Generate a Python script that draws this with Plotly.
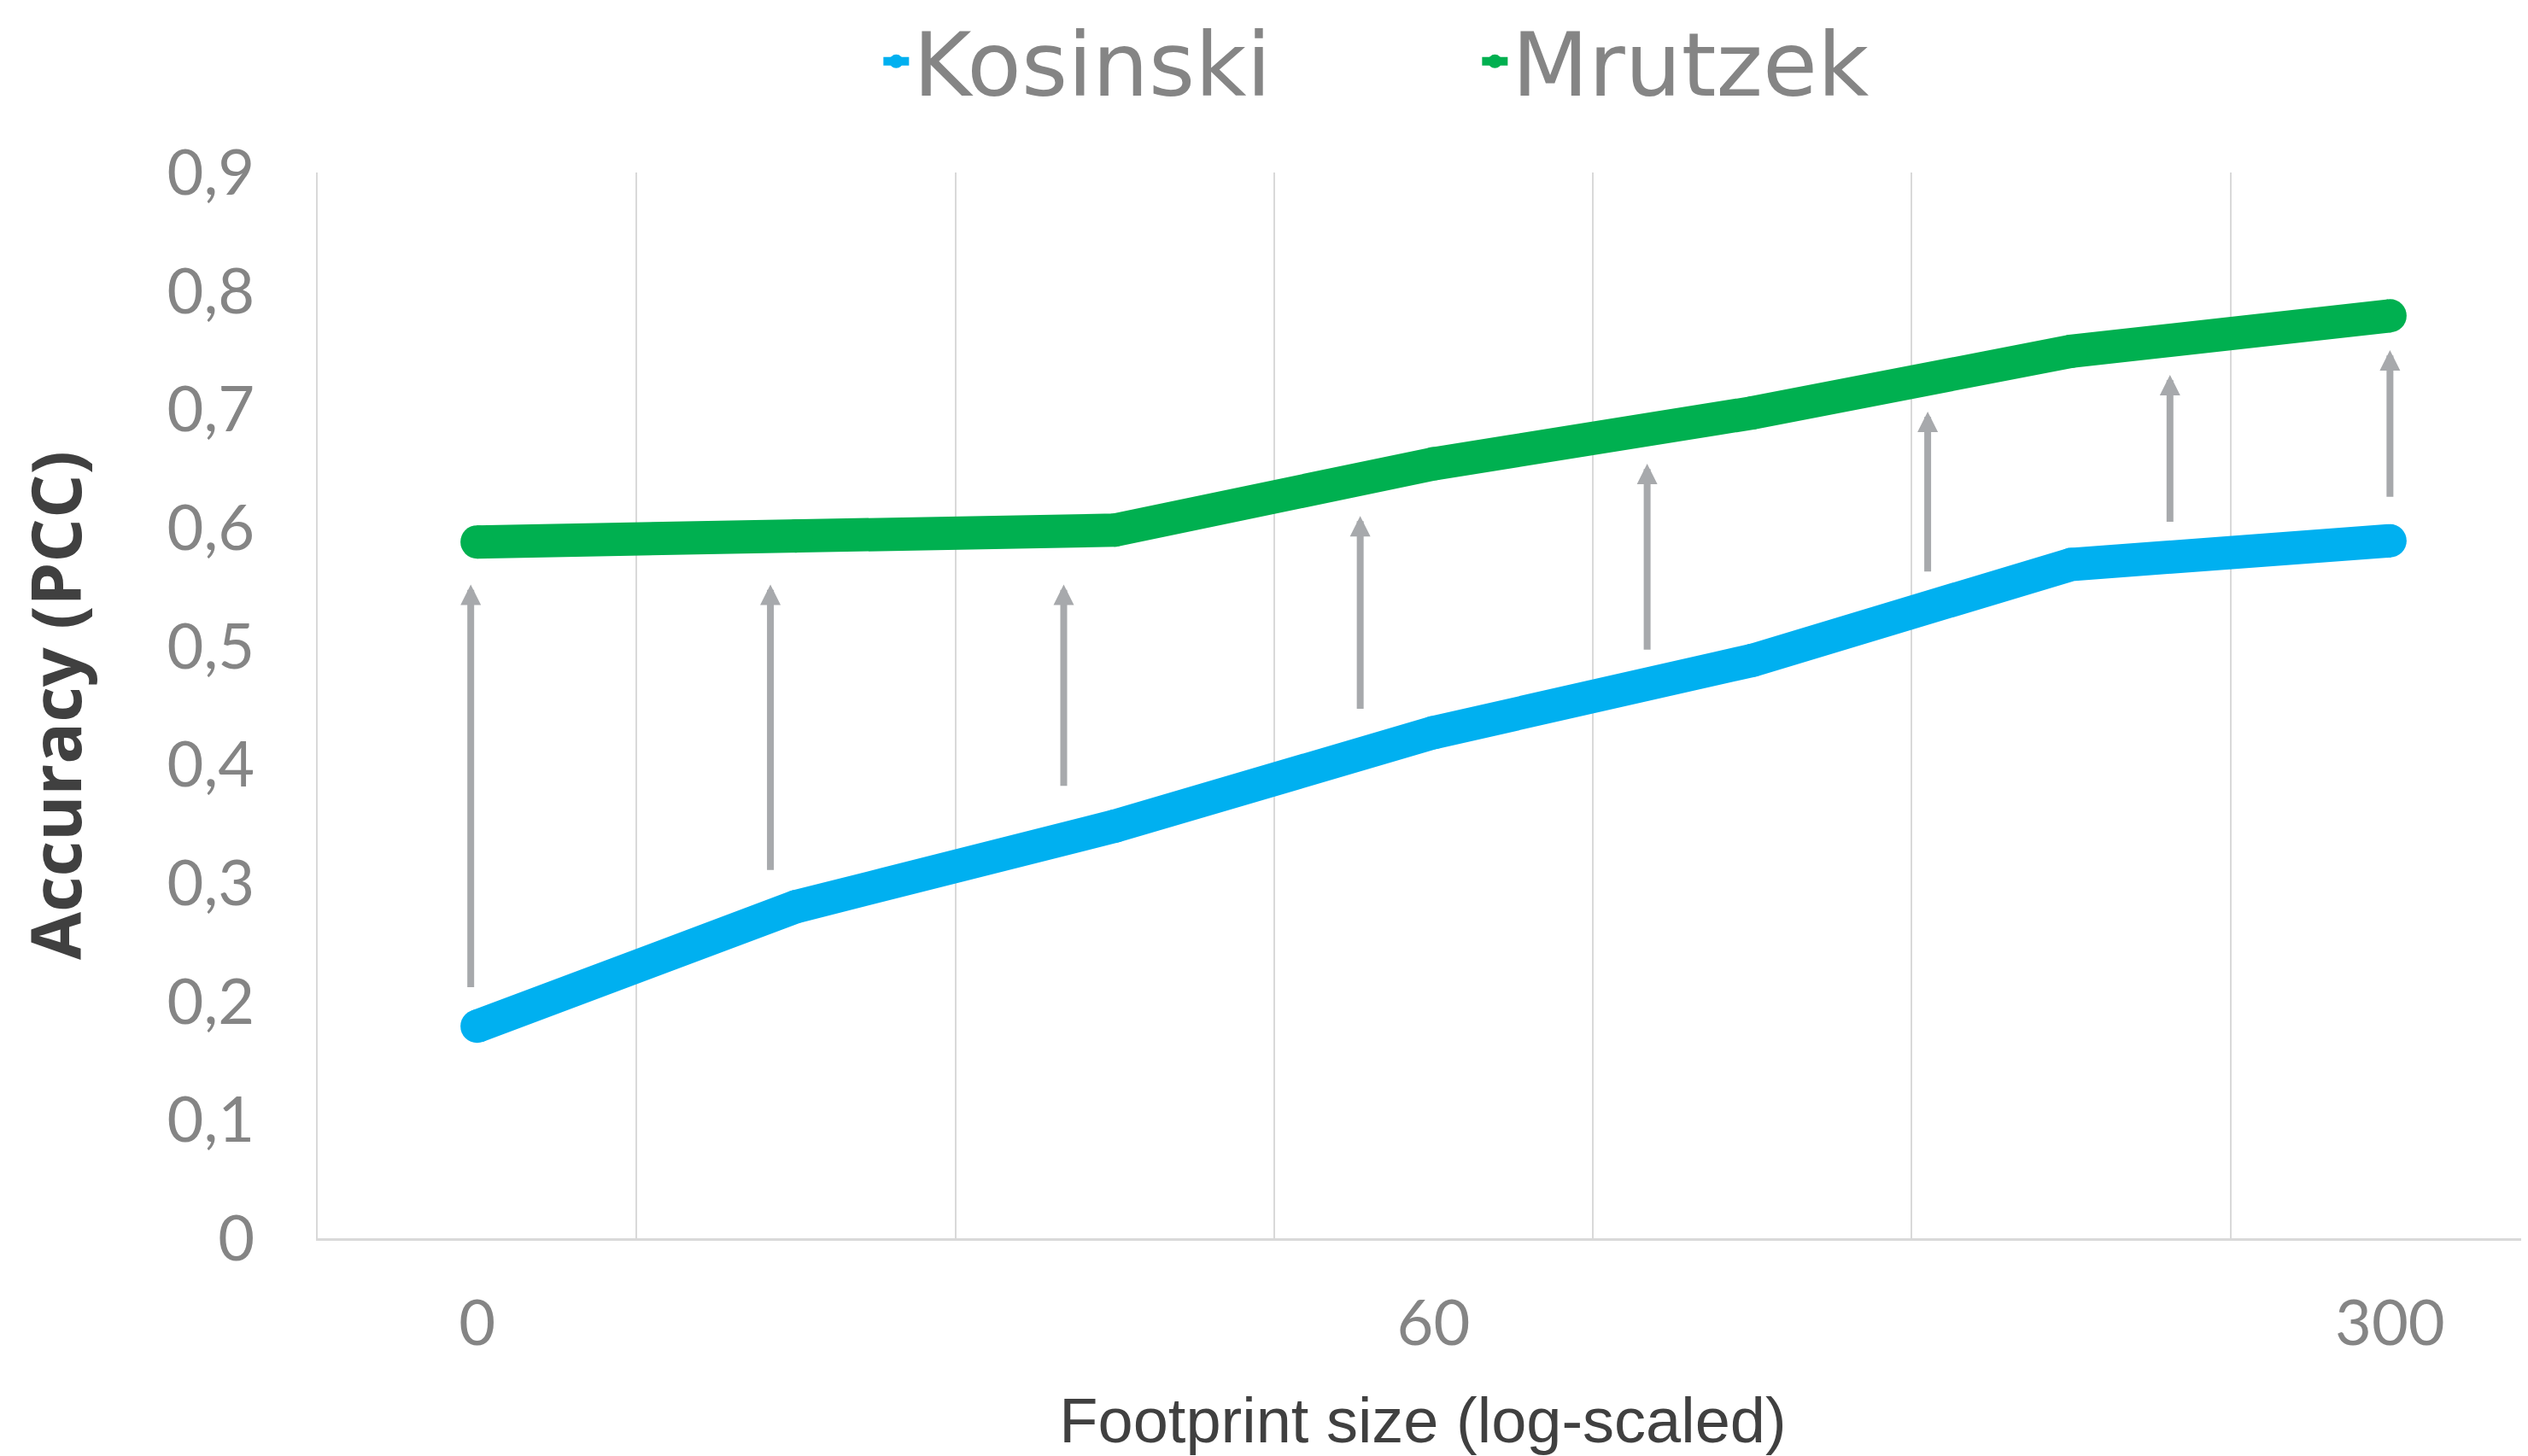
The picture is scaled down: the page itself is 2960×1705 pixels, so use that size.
import plotly.graph_objects as go

# ---- data ----
x_index = [0, 1, 2, 3, 4, 5, 6]
tick_positions = [0, 3, 6]
tick_labels = ["0", "60", "300"]
kosinski = [0.179, 0.280, 0.348, 0.427, 0.488, 0.569, 0.589]
mrutzek = [0.588, 0.593, 0.598, 0.654, 0.697, 0.749, 0.779]
arrow_x = [-0.02, 0.92, 1.84, 2.77, 3.67, 4.55, 5.31, 6.0]
arrow_from = [0.211, 0.310, 0.381, 0.446, 0.496, 0.562, 0.604, 0.625]
arrow_to = [0.552, 0.552, 0.552, 0.610, 0.654, 0.698, 0.729, 0.750]
y_ticks = [0, 0.1, 0.2, 0.3, 0.4, 0.5, 0.6, 0.7, 0.8, 0.9]

BLUE = "#00B0F0"
GREEN = "#00B050"
GRID = "#D9D9D9"
TICK = "#858585"
DARK = "#404040"
ARROW = "#A7A9AC"

fig = go.Figure()
for name, vals, col in [("Kosinski", kosinski, BLUE), ("Mrutzek", mrutzek, GREEN)]:
    fig.add_trace(go.Scatter(
        x=x_index, y=vals, name=name, mode="lines+markers",
        line=dict(color=col, width=39),
        marker=dict(color=col, size=39, line=dict(width=0)),
    ))

for xa, y0, y1 in zip(arrow_x, arrow_from, arrow_to):
    fig.add_annotation(
        x=xa, y=y1, ax=xa, ay=y0, xref="x", yref="y", axref="x", ayref="y",
        text="", showarrow=True, arrowhead=2, arrowsize=0.6, arrowwidth=8,
        arrowcolor=ARROW, standoff=0, startstandoff=0,
    )

fig.update_layout(
    width=2952, height=1697,
    margin=dict(l=364, r=0, t=194, b=255, autoexpand=False),
    paper_bgcolor="white", plot_bgcolor="white",
    separators=", ",
    showlegend=True,
    legend=dict(
        orientation="h", x=0.254, xanchor="left", y=1.104, yanchor="middle",
        font=dict(family="DejaVu Sans", size=104, color=TICK),
        itemwidth=30, entrywidth=656, entrywidthmode="pixels",
        bgcolor="rgba(0,0,0,0)",
    ),
    xaxis=dict(
        range=[-0.5, 6.433],
        tickmode="array", tickvals=tick_positions, ticktext=tick_labels,
        showgrid=False, zeroline=False, ticks="",
        showline=True, linecolor=GRID, linewidth=3,
        minor=dict(tick0=-0.5, dtick=1, showgrid=True, gridcolor=GRID, gridwidth=2, ticks=""),
        tickfont=dict(family="Lato", size=74, color=TICK),
        ticklabelstandoff=33,
        title=dict(text="Footprint size (log-scaled)", standoff=50,
                   font=dict(family="Liberation Sans", size=74, color=DARK)),
    ),
    yaxis=dict(
        range=[0, 0.9], tickmode="array", tickvals=y_ticks,
        showgrid=False, zeroline=False, ticks="",
        showline=True, linecolor=GRID, linewidth=2,
        tickfont=dict(family="Lato", size=74, color=TICK),
        ticklabelstandoff=57,
        title=dict(text="Accuracy (PCC)", standoff=78,
                   font=dict(family="Open Sans", size=81, color=DARK, weight=700)),
    ),
)

fig.write_html("out.html")
